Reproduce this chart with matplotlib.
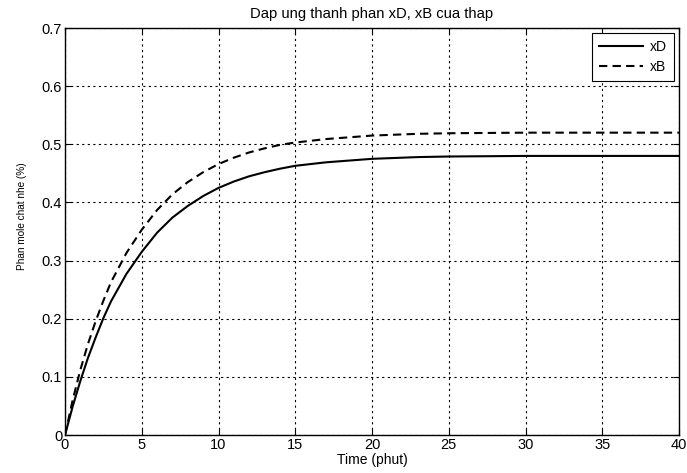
import matplotlib
matplotlib.use("Agg")
import matplotlib.pyplot as plt
import numpy as np

plt.rcParams['font.family'] = ['Liberation Sans', 'DejaVu Sans']

# Values
time_min = [0, 0.5, 1, 1.5, 2, 2.5, 3, 4, 5, 6, 7, 8, 9, 10, 11, 12, 13, 14, 15,
            17, 20, 23, 25, 30, 35, 40]
x_d = [0, 0.049, 0.093, 0.133, 0.168, 0.201, 0.230, 0.277, 0.315, 0.348, 0.374,
       0.394, 0.411, 0.425, 0.436, 0.445, 0.452, 0.458, 0.463, 0.469, 0.475,
       0.478, 0.479, 0.480, 0.480, 0.480]
x_b = [0, 0.060, 0.112, 0.157, 0.196, 0.231, 0.263, 0.313, 0.353, 0.387, 0.414,
       0.435, 0.452, 0.466, 0.477, 0.486, 0.493, 0.499, 0.503, 0.509, 0.515,
       0.518, 0.519, 0.520, 0.520, 0.520]

x_ticks = [0, 5, 10, 15, 20, 25, 30, 35, 40]
y_ticks = [0, 0.1, 0.2, 0.3, 0.4, 0.5, 0.6, 0.7]
y_ticklabels = ["0", "0.1", "0.2", "0.3", "0.4", "0.5", "0.6", "0.7"]

fig = plt.figure(figsize=(6.87, 4.73), dpi=100)
ax = fig.add_axes([0.0946, 0.0803, 0.8938, 0.8605])

ax.plot(time_min, x_d, color="black", linewidth=1.5, linestyle="-", label="xD")
ax.plot(time_min, x_b, color="black", linewidth=1.5, linestyle=(0, (4, 2.5)), label="xB")

ax.set_xlim(0, 40)
ax.set_ylim(0, 0.7)
ax.set_xticks(x_ticks)
ax.set_yticks(y_ticks)
ax.set_yticklabels(y_ticklabels)
ax.tick_params(direction="in", top=True, right=True, labelsize=10.5, length=4, pad=2)
ax.grid(True, color="black", linestyle=(0, (2, 3)), linewidth=0.8)
for sp in ax.spines.values():
    sp.set_linewidth(1.0)

ax.set_title("Dap ung thanh phan xD, xB cua thap", fontsize=10.6, pad=7)
ax.set_xlabel("Time (phut)", fontsize=10, labelpad=1)
ax.set_ylabel("Phan mole chat nhe (%)", fontsize=7.2)
ax.yaxis.set_label_coords(-0.062, 0.538)

leg = ax.legend(loc="upper right", fontsize=10, fancybox=False, framealpha=1,
                edgecolor="black", handlelength=3.2, borderpad=0.5,
                labelspacing=0.45, borderaxespad=0.35, handletextpad=0.5)
leg.get_frame().set_linewidth(0.8)

fig.savefig("out.png", dpi=100)
